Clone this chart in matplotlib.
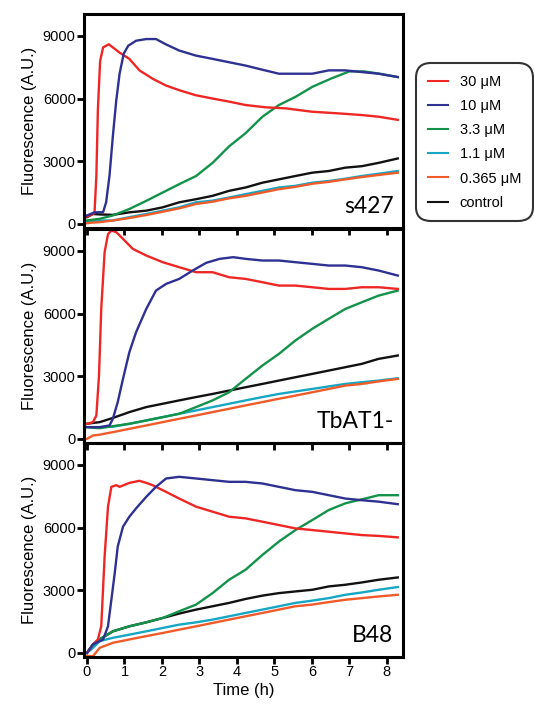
"""
Fluorescence time courses for three strains (s427, TbAT1-, B48)
"""

import matplotlib.pyplot as plt

plt.rcParams['font.family'] = ['Liberation Sans', 'DejaVu Sans']

# ---- data (time in h, fluorescence in A.U.) ----
series_labels = ['30 μM', '10 μM', '3.3 μM', '1.1 μM', '0.365 μM', 'control']
series_colors = ['#ee2724', '#2e3192', '#13924a', '#17a6c4', '#f15a29', '#111111']
panel_names = ['s427', 'TbAT1-', 'B48']

# shared time grid for the slowly rising curves
t_slow = [0, 0.16, 0.34, 0.69, 1.13, 1.58, 2.02, 2.46, 2.91, 3.35, 3.79,
          4.23, 4.68, 5.12, 5.56, 6.01, 6.45, 6.89, 7.33, 7.78, 8.29]

# s427
s427_red_t = [0, 0.16, 0.2, 0.25, 0.29, 0.35, 0.43, 0.58, 0.87, 1.13, 1.4, 1.75,
              2.1, 2.46, 2.9, 3.35, 3.8, 4.23, 4.77, 5.3, 6.0, 6.71, 7.33, 7.78, 8.29]
s427_red_v = [350, 470, 520, 2300, 5450, 7800, 8450, 8600, 8200, 7900, 7350, 6950,
              6630, 6400, 6160, 6000, 5850, 5690, 5580, 5530, 5370, 5290, 5210, 5130, 4980]
s427_blue_t = [0, 0.2, 0.43, 0.51, 0.6, 0.69, 0.78, 0.87, 0.98, 1.1, 1.31, 1.58,
               1.84, 2.1, 2.46, 2.9, 3.35, 3.79, 4.23, 4.68, 5.12, 5.56, 6.01, 6.45,
               6.89, 7.33, 7.78, 8.29]
s427_blue_v = [400, 550, 560, 1030, 2300, 4200, 5900, 7200, 8150, 8530, 8770, 8850,
               8850, 8600, 8300, 8060, 7900, 7740, 7580, 7380, 7190, 7190, 7190, 7350,
               7350, 7270, 7190, 7030]
s427_green_t = [0, 0.16, 0.34, 0.69, 1.13, 1.58, 2.02, 2.46, 2.91, 3.35, 3.79,
                4.23, 4.68, 5.12, 5.56, 6.01, 6.5, 7.0, 7.4, 7.8, 8.29]
s427_green_v = [160, 200, 240, 400, 710, 1100, 1500, 1900, 2290, 2920, 3710, 4340,
                5130, 5690, 6080, 6560, 6950, 7300, 7300, 7190, 7030]
s427_cyan_v = [80, 120, 160, 160, 320, 470, 630, 790, 1030, 1110, 1260, 1420,
               1580, 1740, 1820, 1970, 2050, 2160, 2290, 2400, 2530]
s427_orange_v = [30, 60, 80, 160, 280, 420, 580, 740, 950, 1060, 1220, 1340,
                 1500, 1660, 1770, 1920, 2010, 2130, 2240, 2340, 2450]
s427_black_v = [320, 470, 450, 430, 550, 630, 790, 1030, 1180, 1340, 1580, 1740,
                1970, 2130, 2290, 2450, 2530, 2690, 2760, 2920, 3130]

# TbAT1-
tbat_red_t = [0, 0.16, 0.25, 0.32, 0.38, 0.47, 0.56, 0.65, 0.78, 0.96, 1.22, 1.58,
              2.02, 2.46, 2.91, 3.35, 3.79, 4.23, 4.68, 5.12, 5.56, 6.01, 6.45,
              6.89, 7.33, 7.78, 8.29]
tbat_red_v = [720, 800, 1120, 3030, 6220, 8940, 9800, 9975, 9900, 9580, 9100, 8780,
              8460, 8220, 7980, 7980, 7740, 7660, 7500, 7340, 7340, 7260, 7180,
              7180, 7260, 7260, 7180]
tbat_blue_t = [0, 0.34, 0.6, 0.69, 0.82, 0.96, 1.13, 1.31, 1.58, 1.84, 2.11, 2.46,
               2.82, 3.18, 3.54, 3.9, 4.23, 4.68, 5.12, 5.56, 6.01, 6.45, 6.89, 7.33,
               7.78, 8.29]
tbat_blue_v = [560, 560, 640, 960, 1760, 2870, 4150, 5110, 6220, 7100, 7420, 7660,
               8060, 8430, 8620, 8700, 8620, 8540, 8540, 8460, 8380, 8300, 8300,
               8220, 8060, 7820]
tbat_green_v = [560, 530, 510, 605, 720, 880, 1040, 1200, 1520, 1840, 2230, 2870,
                3510, 4070, 4710, 5270, 5750, 6220, 6540, 6860, 7100]
tbat_cyan_v = [560, 560, 560, 580, 720, 880, 1040, 1200, 1360, 1520, 1680, 1840,
               2000, 2150, 2270, 2390, 2510, 2630, 2710, 2790, 2900]
tbat_orange_v = [0, 160, 200, 320, 480, 640, 800, 960, 1120, 1280, 1440, 1600,
                 1760, 1920, 2070, 2230, 2390, 2550, 2630, 2750, 2870]
tbat_black_v = [720, 760, 800, 1000, 1280, 1520, 1680, 1840, 2000, 2150, 2310,
                2470, 2630, 2790, 2950, 3110, 3270, 3430, 3590, 3830, 3990]

# B48
b48_red_t = [0, 0.16, 0.29, 0.38, 0.47, 0.56, 0.65, 0.78, 0.87, 1.13, 1.4, 1.58,
             1.75, 2.02, 2.46, 2.91, 3.35, 3.79, 4.23, 4.68, 5.12, 5.56, 6.01, 6.45,
             6.89, 7.33, 7.78, 8.29]
b48_red_v = [0, 400, 640, 1270, 4610, 7000, 7950, 8030, 7950, 8140, 8240, 8140,
             8030, 7790, 7390, 7000, 6760, 6520, 6440, 6280, 6120, 5960, 5880, 5800,
             5720, 5640, 5600, 5530]
b48_blue_t = [0, 0.16, 0.43, 0.56, 0.65, 0.74, 0.82, 0.96, 1.13, 1.31, 1.58, 1.84,
              2.11, 2.46, 2.91, 3.35, 3.79, 4.23, 4.68, 5.12, 5.56, 6.01, 6.45, 6.89,
              7.33, 7.78, 8.29]
b48_blue_v = [0, 400, 640, 1270, 2540, 3820, 5090, 6040, 6520, 6920, 7470, 7950,
              8350, 8430, 8350, 8270, 8190, 8190, 8110, 7950, 7790, 7710, 7550, 7390,
              7310, 7240, 7120]
b48_green_v = [0, 400, 650, 1030, 1270, 1460, 1670, 1990, 2310, 2860, 3500, 3980,
               4690, 5330, 5880, 6360, 6840, 7160, 7350, 7550, 7550]
b48_cyan_v = [0, 240, 560, 720, 870, 1030, 1190, 1350, 1460, 1590, 1750, 1910,
              2070, 2230, 2390, 2500, 2620, 2780, 2890, 3020, 3150]
b48_orange_v = [-150, -160, 240, 480, 640, 800, 950, 1110, 1270, 1430, 1590, 1750,
                1910, 2070, 2230, 2310, 2430, 2540, 2620, 2700, 2780]
b48_black_v = [0, 400, 650, 1030, 1270, 1460, 1670, 1880, 2070, 2230, 2390, 2580,
               2740, 2860, 2940, 3020, 3180, 3260, 3370, 3500, 3610]

panels = [
    [(s427_red_t, s427_red_v), (s427_blue_t, s427_blue_v), (s427_green_t, s427_green_v),
     (t_slow, s427_cyan_v), (t_slow, s427_orange_v), (t_slow, s427_black_v)],
    [(tbat_red_t, tbat_red_v), (tbat_blue_t, tbat_blue_v), (t_slow, tbat_green_v),
     (t_slow, tbat_cyan_v), (t_slow, tbat_orange_v), (t_slow, tbat_black_v)],
    [(b48_red_t, b48_red_v), (b48_blue_t, b48_blue_v), (t_slow, b48_green_v),
     (t_slow, b48_cyan_v), (t_slow, b48_orange_v), (t_slow, b48_black_v)],
]

# ---- figure ----
fig = plt.figure(figsize=(5.34, 7.07), dpi=100)
left, right = 84 / 534, 403 / 534
tops = [14, 229, 443]
h = 214

# draw order: back to front, as in the picture
draw_order = [5, 3, 4, 2, 0, 1]

axes = []
for i, (name, data) in enumerate(zip(panel_names, panels)):
    top = tops[i]
    ax = fig.add_axes([left, 1 - (top + h) / 707, right - left, h / 707])
    ax.patch.set_alpha(0)
    for k in draw_order:
        t, v = data[k]
        ax.plot(t, v, color=series_colors[k], lw=1.7, label=series_labels[k],
                solid_joinstyle='round')
    ax.set_xlim(-0.08, 8.43)
    ax.set_ylim(-200, 10050)
    ax.set_yticks([0, 3000, 6000, 9000])
    ax.set_xticks(range(0, 9))
    for sp in ax.spines.values():
        sp.set_linewidth(2.2)
    ax.tick_params(direction='out', length=5, width=2, labelsize=10.5, pad=1)
    if i < 2:
        ax.tick_params(labelbottom=False)
    ax.set_ylabel('Fluorescence (A.U.)', fontsize=12, labelpad=4)
    ax.text(0.97, 0.05, name, transform=ax.transAxes, ha='right', va='bottom',
            fontsize=16.5, family=['Lato', 'DejaVu Sans'])
    axes.append(ax)

axes[-1].set_xlabel('Time (h)', fontsize=12, labelpad=3)

# legend in the paper's order
handles, labels = axes[0].get_legend_handles_labels()
order = [labels.index(lab) for lab in series_labels]
leg = fig.legend([handles[j] for j in order], series_labels,
                 loc='upper left', bbox_to_anchor=(416 / 534, 1 - 63 / 707),
                 fontsize=10.5, frameon=True, fancybox=True, handlelength=1.4,
                 handletextpad=0.8, labelspacing=0.7, borderpad=0.8,
                 borderaxespad=0)
frame = leg.get_frame()
frame.set_edgecolor('black')
frame.set_linewidth(1.5)
frame.set_boxstyle('round,pad=0,rounding_size=1.0')
for line in leg.get_lines():
    line.set_linewidth(1.5)

plt.savefig('out.png', dpi=100)
